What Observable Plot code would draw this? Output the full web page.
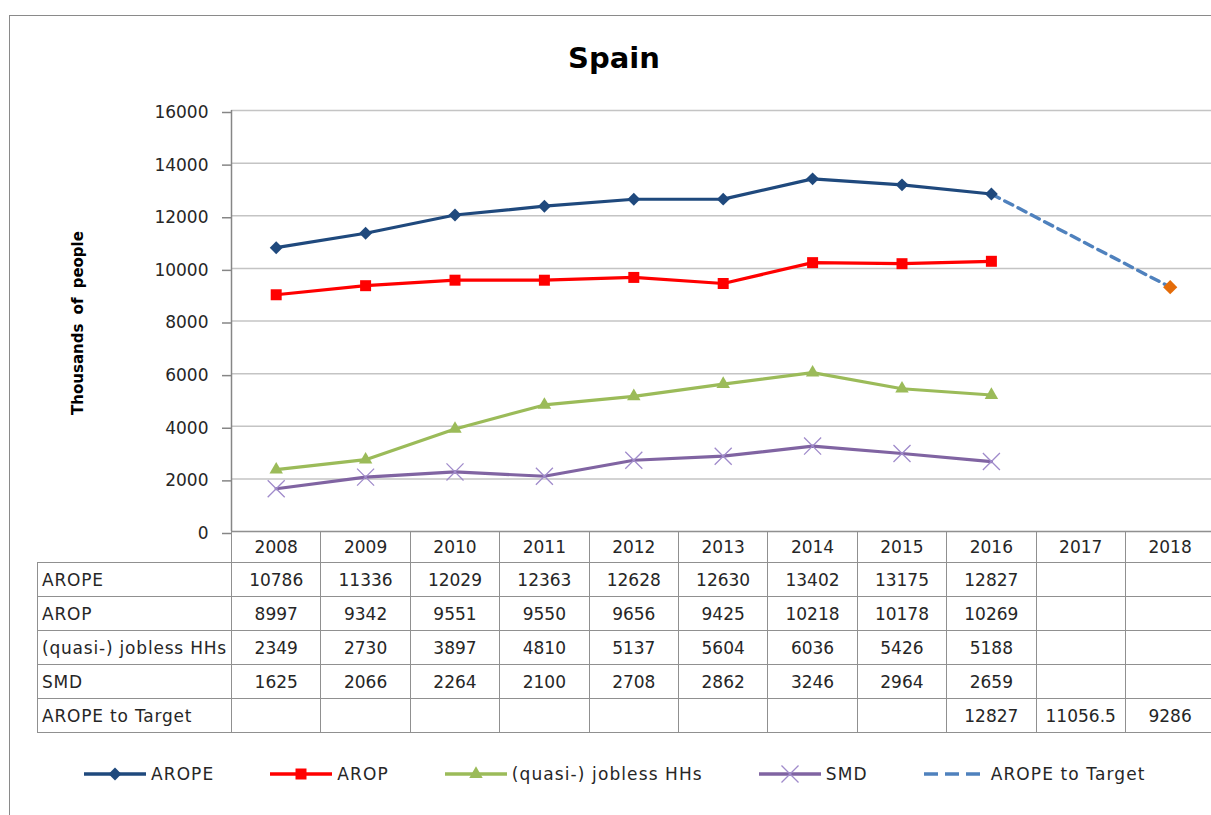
<!DOCTYPE html>
<html>
<head>
<meta charset="utf-8">
<script src="https://cdn.jsdelivr.net/npm/d3@7"></script>
<script src="https://cdn.jsdelivr.net/npm/@observablehq/plot@0.6"></script>
<style>
html,body{margin:0;padding:0;background:#fff;}
#wrap{position:relative;width:1211px;height:815px;overflow:hidden;font-family:"DejaVu Sans",sans-serif;color:#262626;background:#fff;}
#frame{position:absolute;left:9px;top:15px;width:1400px;height:1000px;border:1.5px solid #8a8a8a;box-sizing:border-box;}
#title{position:absolute;left:0;width:1228px;top:44px;line-height:29px;text-align:center;font-weight:bold;font-size:29px;color:#000;}
#ylabel{position:absolute;left:78px;top:323px;transform:translate(-50%,-50%) rotate(-90deg);font-weight:bold;font-size:15px;line-height:15px;white-space:nowrap;color:#000;word-spacing:4px;}
#chart{position:absolute;left:0;top:0;width:1215px;}
#chart svg{max-width:none !important;}
#table{position:absolute;left:37px;top:531px;width:1177.4px;border-collapse:collapse;table-layout:fixed;font-size:17px;color:#262626;}
#table td{border:1.5px solid #909090;padding:0;text-align:center;white-space:nowrap;overflow:hidden;}
#table td.lab{text-align:left;padding-left:4px;letter-spacing:0.8px;}
#table tr.head td{height:30px;}
#table tr.body td{height:33px;}
#table td.blank{border-top:none;border-left:none;}
#legend{position:absolute;left:84px;top:764px;display:flex;align-items:center;gap:56px;font-size:17px;color:#262626;}
#legend .item{display:flex;align-items:center;}
#legend span{letter-spacing:1.1px;}
#legend svg{display:block;}
</style>
</head>
<body>
<div id="wrap">
  <div id="frame"></div>
  <div id="chart"></div>
  <div id="title">Spain</div>
  <div id="ylabel">Thousands  of  people</div>
  <table id="table"></table>
  <div id="legend"></div>
</div>
<script>
// ---------- data ----------
const years = [2008, 2009, 2010, 2011, 2012, 2013, 2014, 2015, 2016, 2017, 2018];
const yTicks = [0, 2000, 4000, 6000, 8000, 10000, 12000, 14000, 16000];
const aropeValues   = [10786, 11336, 12029, 12363, 12628, 12630, 13402, 13175, 12827, null, null];
const aropValues    = [8997, 9342, 9551, 9550, 9656, 9425, 10218, 10178, 10269, null, null];
const joblessValues = [2349, 2730, 3897, 4810, 5137, 5604, 6036, 5426, 5188, null, null];
const smdValues     = [1625, 2066, 2264, 2100, 2708, 2862, 3246, 2964, 2659, null, null];
const targetValues  = [null, null, null, null, null, null, null, null, 12827, 11056.5, 9286];
const seriesNames   = ["AROPE", "AROP", "(quasi-) jobless HHs", "SMD", "AROPE to Target"];

// ---------- styles ----------
const series = [
  {name: seriesNames[0], values: aropeValues,   color: "#1F497D", symbol: "diamond2", r: 5.8, filled: true},
  {name: seriesNames[1], values: aropValues,    color: "#FF0000", symbol: "square",   r: 6.2, filled: true},
  {name: seriesNames[2], values: joblessValues, color: "#9BBB59", symbol: "triangle", r: 5.0, filled: true},
  {name: seriesNames[3], values: smdValues,     color: "#8064A2", symbol: "times",    r: 7.8, filled: false, markColor: "#A08BCB"}
];
const target = {name: seriesNames[4], values: targetValues, color: "#4F81BD", endColor: "#E46C0A"};

const toRows = (vals) => vals.map((v, i) => ({year: years[i], value: v})).filter(d => d.value != null);

const targetRows = toRows(target.values);
const lastYear = years[years.length - 1];

const marks = [
  Plot.gridY(yTicks.filter(d => d > 0), {stroke: "#c4c4c4", strokeOpacity: 1, strokeWidth: 1.5}),
  Plot.axisY(yTicks, {tickSize: 9, tickPadding: 14, stroke: "#868686", strokeWidth: 1.5, fill: "#262626",
    fontSize: 17, label: null, tickFormat: d => String(d), dy: 2}),
  Plot.ruleX([years[0] - 0.5], {stroke: "#868686", strokeWidth: 1.5}),
  Plot.ruleY([0], {stroke: "#868686", strokeWidth: 1.5}),
  Plot.line(targetRows, {x: "year", y: "value", stroke: target.color, strokeWidth: 3.4, strokeDasharray: "9,6"})
];
for (const s of series) {
  const rows = toRows(s.values);
  marks.push(Plot.line(rows, {x: "year", y: "value", stroke: s.color, strokeWidth: 3.2, strokeLinejoin: "round"}));
  if (s.filled) {
    marks.push(Plot.dot(rows, {x: "year", y: "value", symbol: s.symbol, r: s.r, fill: s.color, stroke: "none"}));
  } else {
    marks.push(Plot.dot(rows, {x: "year", y: "value", symbol: s.symbol, r: s.r, stroke: s.markColor, strokeWidth: 1.3}));
  }
}
marks.push(Plot.dot(targetRows.filter(d => d.year === lastYear),
  {x: "year", y: "value", symbol: "diamond2", r: 6.4, fill: target.endColor, stroke: "none"}));

const chart = Plot.plot({
  width: 1215,
  height: 545,
  marginLeft: 231,
  marginRight: 0.6,
  marginTop: 110,
  marginBottom: 14,
  x: {domain: [years[0] - 0.5, lastYear + 0.5], axis: null},
  y: {domain: [yTicks[0], yTicks[yTicks.length - 1]]},
  style: {fontFamily: "DejaVu Sans", fontSize: "17px", color: "#262626", background: "transparent", overflow: "visible", maxWidth: "none"},
  marks
});
document.getElementById("chart").appendChild(chart);

// ---------- data table ----------
const table = d3.select("#table");
const colg = table.append("colgroup");
colg.append("col").style("width", "194px");
years.forEach(() => colg.append("col").style("width", "89.4px"));
const head = table.append("tr").attr("class", "head");
head.append("td").attr("class", "blank");
years.forEach(y => head.append("td").text(y));
const tableSeries = [...series, target];
tableSeries.forEach(s => {
  const tr = table.append("tr").attr("class", "body");
  tr.append("td").attr("class", "lab").text(s.name);
  s.values.forEach(v => tr.append("td").text(v == null ? "" : String(v)));
});

// ---------- legend ----------
const legend = d3.select("#legend");
series.forEach(s => {
  const item = legend.append("div").attr("class", "item");
  const svg = item.append("svg").attr("width", 62).attr("height", 20);
  svg.append("line").attr("x1", 0).attr("x2", 62).attr("y1", 10).attr("y2", 10)
    .attr("stroke", s.color).attr("stroke-width", 3.5);
  const symType = {diamond2: d3.symbolDiamond2, square: d3.symbolSquare, triangle: d3.symbolTriangle, times: d3.symbolTimes}[s.symbol];
  const path = svg.append("path").attr("transform", "translate(31,10)")
    .attr("d", d3.symbol(symType, Math.PI * s.r * s.r)());
  if (s.filled) path.attr("fill", s.color);
  else path.attr("fill", "none").attr("stroke", s.markColor).attr("stroke-width", 1.3);
  item.append("span").style("margin-left", "5px").text(s.name);
});
{
  const item = legend.append("div").attr("class", "item");
  const svg = item.append("svg").attr("width", 56).attr("height", 20);
  svg.append("line").attr("x1", 0).attr("x2", 56).attr("y1", 10).attr("y2", 10)
    .attr("stroke", target.color).attr("stroke-width", 3.5).attr("stroke-dasharray", "14,7");
  item.append("span").style("margin-left", "11px").text(target.name);
}
</script>
</body>
</html>
